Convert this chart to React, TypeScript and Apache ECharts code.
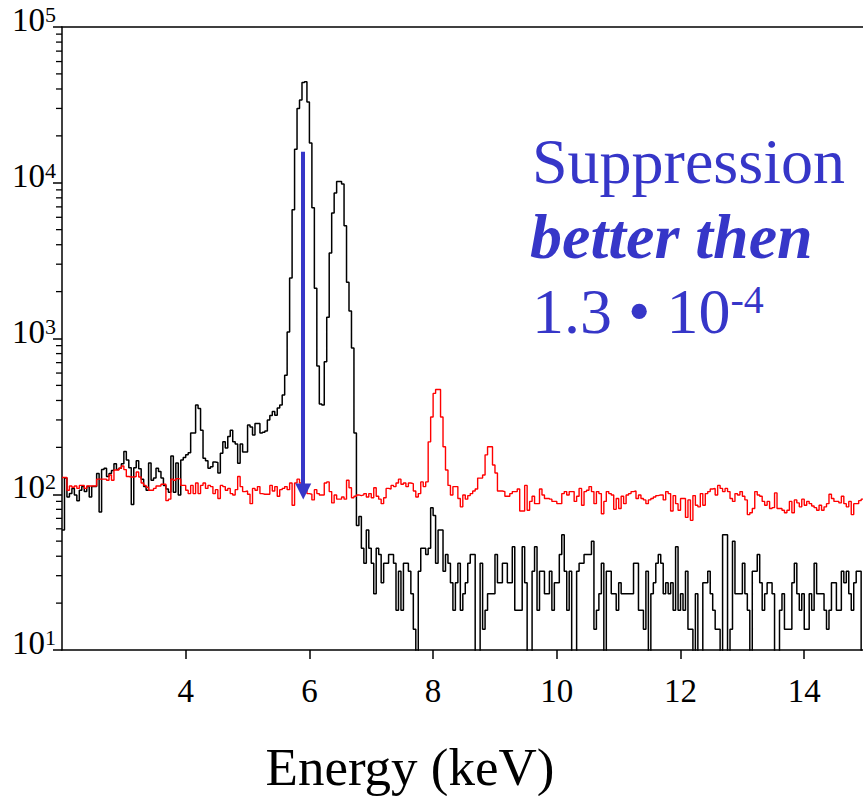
import React, { useEffect, useRef } from "react";
import * as echarts from "echarts";

// Histogram bins: energy of first bin edge (keV) and bin width (keV)
const E_START = 2.0;
const BIN_WIDTH = 0.04;

// Black: spectrum without suppression (counts per bin); 4.5 = below axis floor
const BLACK: number[] = [
  59, 127, 96, 101, 109, 99, 91, 106, 112, 104,
  112, 96, 112, 112, 136, 77, 144, 147, 130, 136,
  142, 157, 144, 147, 157, 188, 166, 148, 86, 148,
  164, 146, 125, 112, 106, 159, 123, 127, 147, 140,
  127, 114, 108, 103, 176, 103, 159, 99, 166, 172,
  179, 185, 247, 247,
  374, 355, 258, 170, 164, 147, 150, 161, 160, 137,
  183, 217, 198, 235, 258, 217, 210, 158, 210, 187,
  187, 278, 270, 240, 285, 285, 247, 250, 255, 300,
  320, 340, 322, 358, 374, 434, 580, 1100, 2450, 6700, 16400,
  30000, 34000, 44000, 44500, 33000, 18000, 6900, 2100, 665, 380,
  374, 710, 1370, 3540, 6400, 8600, 10200, 10200, 9800, 5300,
  2300, 1500, 870, 247, 63, 72, 45, 36, 59, 45,
  36, 23, 45, 41, 27, 36, 36, 41, 41,
  36, 18, 32, 18, 36, 36, 32, 23, 13.6, 4.5,
  32, 45, 45, 41, 45, 82, 73, 36, 59, 59,
  32, 41, 36, 27, 18, 27,
  36, 18, 23, 27, 36, 41, 41, 4.5, 4.5, 36,
  13.6, 18, 23, 23, 23, 41, 27, 27, 36, 36,
  27, 27, 46, 18, 18, 18, 46, 27, 4.5, 4.5,
  32, 46, 18, 32, 32, 23, 23, 32, 18, 27,
  27, 41, 55, 32, 18, 32, 4.5, 4.5, 32, 36,
  36, 41, 41,
  41, 50, 13.6, 18, 23, 36, 4.5, 32, 32, 23,
  23, 18, 27, 23, 23, 23, 23, 23, 36, 36,
  18, 18, 13.6, 32, 4.5, 23, 27, 36, 41, 36,
  23, 27, 23, 27, 18, 46, 18, 23, 18, 32,
  13.6, 13.6, 4.5, 23, 4.5, 4.5, 27, 27, 32, 23,
  18, 13.6, 13.6, 4.5, 55, 55,
  4.5, 13.6, 50, 23, 23, 23, 36, 23, 18, 4.5,
  32, 32, 41, 27, 18, 23, 27, 27, 23, 4.5,
  4.5, 18, 23, 13.6, 13.6, 13.6, 27, 36, 23, 18,
  23, 13.6, 13.6, 23, 18, 36, 23, 23, 23, 18,
  13.6, 18, 27, 27, 18, 18, 32, 27, 32, 23,
  18, 27, 32, 32, 4.5,
];

// Red: spectrum with suppression (counts per bin)
const RED: number[] = [
  128, 128, 106, 113, 111, 113, 109, 114, 114, 109,
  113, 113, 113, 113, 125, 125, 125, 125, 123, 133,
  123, 143, 143, 147, 152, 144, 130, 129, 129, 130,
  139, 129, 118, 114, 111, 106, 106, 109, 113, 113,
  116, 116, 91, 93, 125, 123, 126, 125, 114, 114,
  106, 101,
  114, 101, 118, 101, 114, 118, 109, 114, 112, 101,
  107, 94, 114, 112, 106, 109, 101, 99, 107, 130,
  112, 104, 105, 100, 87, 109, 106, 112, 101, 100,
  100, 100, 114, 105, 112, 97, 107, 109, 112, 107,
  118, 85, 118, 125, 118, 109, 112, 101, 100, 92,
  107, 101,
  99, 99, 118, 120, 104, 88, 99, 93, 93, 96,
  93, 123, 110, 95, 97, 99, 98, 99, 101, 96,
  101, 95, 110, 97, 93, 87, 95, 109, 108, 114,
  112, 118, 125, 116, 118, 112, 118, 117, 105, 96,
  101, 120, 112, 120, 217, 313, 444, 470, 470, 313,
  202, 143, 114, 99, 112,
  112, 94, 83, 99, 93, 98, 101, 105, 108, 127,
  127, 133, 179, 202, 202, 154, 137, 105, 105, 104,
  97, 97, 101, 104, 104, 108, 78, 78, 114, 79,
  90, 97, 87, 87, 108, 99, 94, 94, 93, 90,
  90, 87, 87, 101, 104, 99, 104, 104, 90, 97,
  109, 85, 104, 106, 112, 104,
  87, 104, 101, 75, 90, 104, 101, 99, 80, 94,
  81, 97, 87, 99, 101, 104, 105, 94, 99, 94,
  92, 87, 92, 94, 96, 98, 99, 99, 92, 104,
  101, 78, 98, 87, 79, 94, 94, 71, 92, 68,
  98, 85, 83, 101, 85, 101, 104, 108, 109, 99,
  114, 109, 104,
  109, 104, 94, 90, 101, 99, 104, 97, 92, 74,
  76, 81, 104, 99, 97, 90, 85, 90, 81, 82,
  102, 81, 81, 79, 76, 79, 90, 76, 92, 88,
  83, 93, 85, 90, 87, 84, 82, 79, 85, 79,
  83, 87, 100, 94, 90, 90, 88, 97, 87, 83,
  90, 74, 87, 87, 91, 93,
];

const X_MIN = 2;
const X_MAX = 14.95;
const X_TICKS = [4, 6, 8, 10, 12, 14];
const Y_MIN = 10;
const Y_MAX = 100000;
const DECADES = [10, 100, 1000, 10000];
const MINOR_MULTS = [2, 3, 4, 5, 6, 7, 8, 9];

// Annotation arrow (keV, counts)
const ARROW_E = 5.9;
const ARROW_FROM = 15800;
const ARROW_TO = 104;

const NOTE_LINE1 = "Suppression";
const NOTE_LINE2 = "better then";
const NOTE_LINE3_MAIN = "1.3 \u2022 10";
const NOTE_LINE3_EXP = "-4";
const X_TITLE = "Energy (keV)";

const SERIF = "'Liberation Serif', 'Times New Roman', Times, serif";
const BLUE = "#3636c8";

function toSteps(values: number[]): number[][] {
  const pts = values.map((v, i) => [E_START + i * BIN_WIDTH, v]);
  pts.push([E_START + values.length * BIN_WIDTH, values[values.length - 1]]);
  return pts;
}

export default function App() {
  const ref = useRef<HTMLDivElement>(null);

  useEffect(() => {
    if (!ref.current) return;
    const chart = echarts.init(ref.current, undefined, { renderer: "svg" });
    const minorTicks: number[][] = [];
    DECADES.forEach((d) => MINOR_MULTS.forEach((m) => minorTicks.push([X_MIN, m * d])));

    const option: any = {
      animation: false,
      backgroundColor: "#ffffff",
      textStyle: { fontFamily: SERIF },
      grid: { left: 62, right: 0, top: 27, bottom: 146, containLabel: false },
      xAxis: [
        {
          type: "value",
          min: X_MIN,
          max: X_MAX,
          interval: 2,
          axisLine: { show: true, onZero: false, lineStyle: { color: "#000", width: 1.5 } },
          axisTick: {
            show: true,
            length: 9,
            inside: false,
            customValues: X_TICKS,
            lineStyle: { color: "#000", width: 1.5 },
          },
          axisLabel: {
            show: true,
            customValues: X_TICKS,
            margin: 24,
            fontFamily: SERIF,
            fontSize: 33,
            lineHeight: 33,
            color: "#000",
          },
          splitLine: { show: false },
        },
        {
          type: "value",
          position: "top",
          min: X_MIN,
          max: X_MAX,
          axisLine: { show: true, onZero: false, lineStyle: { color: "#000", width: 1.5 } },
          axisTick: { show: false },
          axisLabel: { show: false },
          splitLine: { show: false },
        },
      ],
      yAxis: {
        type: "log",
        logBase: 10,
        min: Y_MIN,
        max: Y_MAX,
        axisLine: { show: true, onZero: false, lineStyle: { color: "#000", width: 1.5 } },
        axisTick: { show: true, length: 9, inside: false, lineStyle: { color: "#000", width: 1.5 } },
        axisLabel: {
          show: true,
          margin: 6,
          padding: [0, 0, 14, 0],
          formatter: (v: number) => `{b|10}{s|${Math.round(Math.log10(v))}}`,
          rich: {
            b: { fontFamily: SERIF, fontSize: 33, color: "#000", lineHeight: 33 },
            s: { fontFamily: SERIF, fontSize: 22, color: "#000", lineHeight: 26, verticalAlign: "top" },
          },
        },
        splitLine: { show: false },
        minorTick: { show: false },
      },
      series: [
        {
          type: "custom",
          silent: true,
          clip: false,
          xAxisIndex: 0,
          yAxisIndex: 0,
          data: minorTicks,
          renderItem: (_p: any, api: any) => {
            const pt = api.coord([api.value(0), api.value(1)]);
            return {
              type: "line",
              shape: { x1: pt[0] - 6, y1: pt[1], x2: pt[0], y2: pt[1] },
              style: { stroke: "#000", lineWidth: 1.3 },
            };
          },
        },
        {
          type: "line",
          name: "no suppression",
          data: toSteps(BLACK),
          step: "end",
          symbol: "none",
          showSymbol: false,
          clip: true,
          silent: true,
          z: 2,
          emphasis: { disabled: true },
          lineStyle: { color: "#000000", width: 1.5 },
          itemStyle: { color: "#000000" },
          markLine: {
            silent: true,
            animation: false,
            symbol: ["none", "triangle"],
            symbolSize: [16, 16],
            label: { show: false },
            emphasis: { disabled: true },
            lineStyle: { color: BLUE, width: 4, type: "solid" },
            itemStyle: { color: BLUE },
            data: [[{ coord: [ARROW_E, ARROW_FROM] }, { coord: [ARROW_E, ARROW_TO] }]],
          },
        },
        {
          type: "line",
          name: "suppressed",
          data: toSteps(RED),
          step: "end",
          symbol: "none",
          showSymbol: false,
          clip: true,
          silent: true,
          z: 3,
          emphasis: { disabled: true },
          lineStyle: { color: "#ff0000", width: 1.4 },
          itemStyle: { color: "#ff0000" },
        },
      ],
      graphic: [
        {
          type: "text",
          x: 532,
          y: 161,
          style: {
            text: NOTE_LINE1,
            fontFamily: SERIF,
            fontSize: 64,
            fill: BLUE,
            align: "left",
            verticalAlign: "middle",
          },
        },
        {
          type: "text",
          x: 530,
          y: 236,
          style: {
            text: NOTE_LINE2,
            fontFamily: SERIF,
            fontSize: 64,
            fontWeight: "bold",
            fontStyle: "italic",
            fill: BLUE,
            align: "left",
            verticalAlign: "middle",
          },
        },
        {
          type: "text",
          x: 532,
          y: 311,
          style: {
            text: `{m|${NOTE_LINE3_MAIN}}{s|${NOTE_LINE3_EXP}}`,
            fill: BLUE,
            align: "left",
            verticalAlign: "middle",
            rich: {
              m: { fontFamily: SERIF, fontSize: 64, fill: BLUE, lineHeight: 64 },
              s: { fontFamily: SERIF, fontSize: 40, fill: BLUE, lineHeight: 42, verticalAlign: "top" },
            },
          },
        },
        {
          type: "text",
          x: 410,
          y: 767,
          style: {
            text: X_TITLE,
            fontFamily: SERIF,
            fontSize: 53,
            fill: "#000",
            align: "center",
            verticalAlign: "middle",
          },
        },
      ],
    };

    chart.setOption(option);
    return () => chart.dispose();
  }, []);

  return (
    <div
      ref={ref}
      style={{ position: "absolute", left: 0, top: 0, width: 863, height: 796, background: "#fff" }}
    />
  );
}
